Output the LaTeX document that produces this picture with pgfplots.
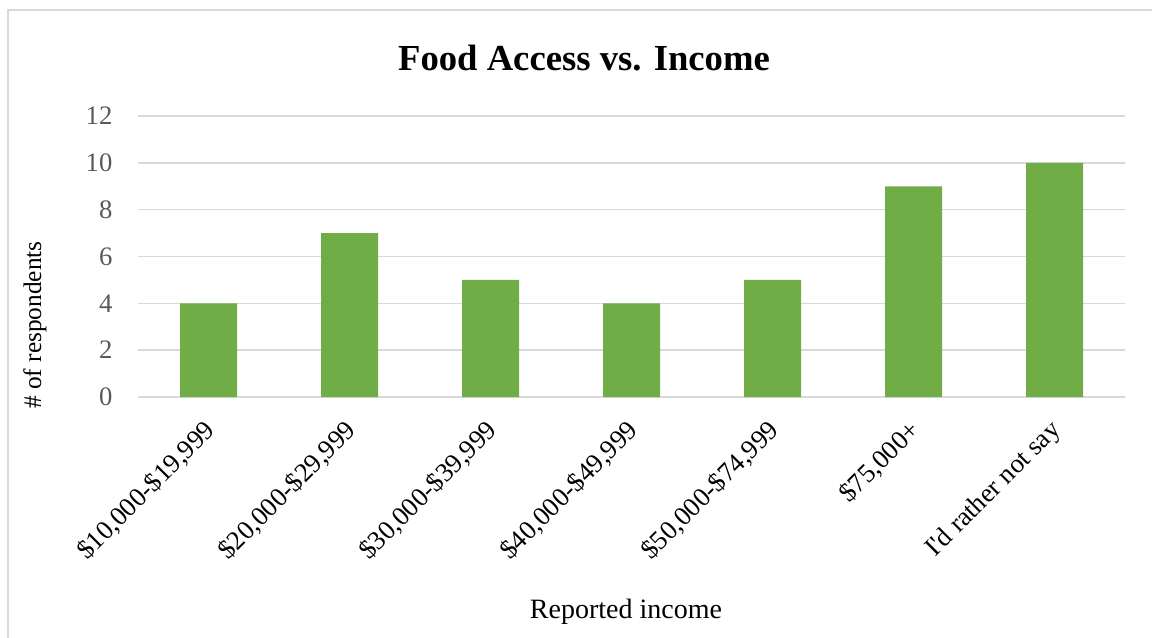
\documentclass[border=0pt]{standalone}
\usepackage{pgfplots}
\pgfplotsset{compat=1.18}
\usepackage{fontspec}
\setmainfont{Liberation Serif}
\definecolor{barg}{HTML}{70AD47}
\definecolor{gridc}{HTML}{D9D9D9}
\definecolor{tickc}{HTML}{595959}
\begin{document}
\begin{tikzpicture}
\useasboundingbox (0,0) rectangle (864pt,-478.5pt);
\begin{scope}
\clip (0,0) rectangle (864pt,-478.5pt);
\draw[gridc, line width=1.1pt] (6pt,-7.5pt) rectangle (880pt,-500pt);
\end{scope}
\begin{axis}[
  at={(103.5pt,-297.75pt)}, anchor=south west,
  scale only axis, width=740.25pt, height=210.75pt,
  xmin=-0.5, xmax=6.5, ymin=0, ymax=12,
  ytick={0,2,...,12},
  xtick=data,
  xticklabels={{\$10,000-\$19,999},{\$20,000-\$29,999},{\$30,000-\$39,999},{\$40,000-\$49,999},{\$50,000-\$74,999},{\$75,000+},{I\textquotesingle d rather not say}},
  x tick label style={rotate=45, anchor=north east, inner sep=0pt, xshift=-14.2pt, yshift=-7.9pt, font=\fontsize{20}{24}\selectfont, text=black},
  y tick label style={font=\fontsize{20}{24}\selectfont, text=tickc, inner sep=0pt, xshift=-19pt},
  /pgf/number format/assume math mode=true,
  ymajorgrids, grid style={gridc, line width=1.1pt},
  axis line style={draw=none},
  yticklabel pos=left,
  xticklabel pos=bottom,
  major tick length=0pt,
  ybar, bar width=42.75pt,
  clip=false,
]
\draw[gridc, line width=1.1pt] (axis cs:-0.5,0) -- (axis cs:6.5,0);
\addplot[fill=barg, draw=none] coordinates {(0,4) (1,7) (2,5) (3,4) (4,5) (5,9) (6,10)};
\end{axis}
\node[font=\fontsize{27.5}{32}\selectfont\bfseries] at (438pt,-43.5pt) {Food Access vs. Income};
\node[font=\fontsize{21}{25}\selectfont] at (469.5pt,-459pt) {Reported income};
\node[font=\fontsize{19}{23}\selectfont, rotate=90] at (26.25pt,-243.75pt) {\# of respondents};
\end{tikzpicture}
\end{document}
